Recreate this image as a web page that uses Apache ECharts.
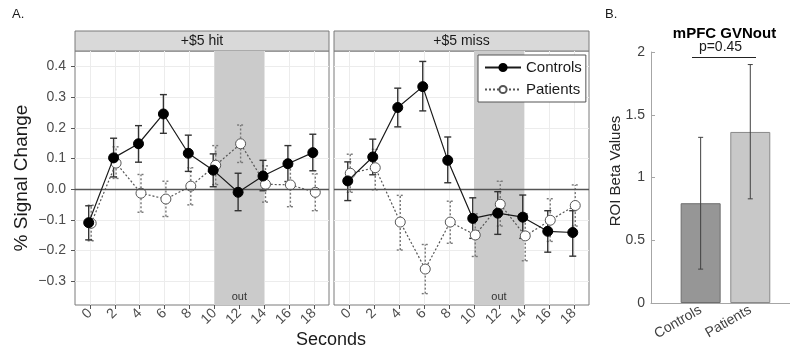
<!DOCTYPE html>
<html>
<head>
<meta charset="utf-8">
<script src="https://cdn.jsdelivr.net/npm/echarts@6/dist/echarts.min.js"></script>
<style>html,body{margin:0;padding:0;background:#fff}#c{width:790px;height:356px}</style>
</head>
<body>
<div id="c"></div>
<script>
// ---- data ----
var seconds = [0, 2, 4, 6, 8, 10, 12, 14, 16, 18];
var panelTitles = ['+$5 hit', '+$5 miss'];

var hitControls   = [-0.109, 0.102, 0.148, 0.245, 0.117, 0.062, -0.010, 0.043, 0.083, 0.119];
var hitControlsLo = [-0.165, 0.040, 0.088, 0.182, 0.058, 0.008, -0.070, -0.005, 0.025, 0.060];
var hitControlsHi = [-0.054, 0.166, 0.207, 0.308, 0.176, 0.115, 0.052, 0.094, 0.142, 0.179];

var hitPatients   = [-0.111, 0.085, -0.013, -0.032, 0.010, 0.078, 0.148, 0.016, 0.014, -0.010];
var hitPatientsLo = [-0.168, 0.035, -0.075, -0.089, -0.051, 0.015, 0.087, -0.042, -0.057, -0.070];
var hitPatientsHi = [-0.052, 0.138, 0.048, 0.026, 0.070, 0.142, 0.209, 0.076, 0.075, 0.050];

var missControls   = [0.027, 0.105, 0.266, 0.334, 0.094, -0.095, -0.078, -0.091, -0.137, -0.141];
var missControlsLo = [-0.037, 0.047, 0.203, 0.255, 0.021, -0.160, -0.147, -0.160, -0.205, -0.218];
var missControlsHi = [0.089, 0.163, 0.329, 0.416, 0.170, -0.028, -0.008, -0.019, -0.070, -0.070];

var missPatients   = [0.052, 0.070, -0.107, -0.260, -0.107, -0.149, -0.049, -0.152, -0.101, -0.053];
var missPatientsLo = [-0.010, -0.002, -0.198, -0.340, -0.176, -0.219, -0.120, -0.233, -0.170, -0.120];
var missPatientsHi = [0.114, 0.130, -0.020, -0.180, -0.039, -0.080, 0.026, -0.080, -0.031, 0.014];

var outWindow = [10, 14];
var yTickLabels = [-0.3, -0.2, -0.1, 0.0, 0.1, 0.2, 0.3, 0.4];

var barCategories = ['Controls', 'Patients'];
var barValues = [0.795, 1.363];
var barLow = [0.27, 0.83];
var barHigh = [1.32, 1.90];
var pValueText = 'p=0.45';
var barTitle = 'mPFC GVNout';

// ---- build ----
var FONT = '"Liberation Sans", Arial, Helvetica, sans-serif';
var dodge = 0.1;
function pts(vals, off) { return seconds.map(function (s, i) { return [s + off, vals[i]]; }); }
function errs(lo, hi, off) { return seconds.map(function (s, i) { return [s + off, lo[i], hi[i]]; }); }
function fmtMinus(v) { return (Math.abs(v) < 1e-9 ? '0.0' : v.toFixed(1)).replace('-', '\u2212'); }

function errRender(color, dash, capHalf, lw) {
  return function (params, api) {
    var x = api.value(0), lo = api.value(1), hi = api.value(2);
    var a = api.coord([x, lo]), b = api.coord([x, hi]);
    var st = { stroke: color, lineWidth: lw, lineDash: dash };
    return { type: 'group', children: [
      { type: 'line', shape: { x1: a[0], y1: a[1], x2: b[0], y2: b[1] }, style: st },
      { type: 'line', shape: { x1: a[0] - capHalf, y1: a[1], x2: a[0] + capHalf, y2: a[1] }, style: st },
      { type: 'line', shape: { x1: b[0] - capHalf, y1: b[1], x2: b[0] + capHalf, y2: b[1] }, style: st }
    ]};
  };
}

var grids = [
  { left: 75, top: 51, width: 254, height: 254 },
  { left: 334, top: 51, width: 255, height: 254 },
  { left: 651, top: 52, width: 139, height: 251 }
];

function lineX(gi) {
  return {
    type: 'value', gridIndex: gi, min: -1.2, max: 19.2, splitNumber: 20, position: 'bottom',
    axisLine: { show: false, onZero: false },
    axisTick: { show: true, inside: false, customValues: seconds, length: 4, lineStyle: { color: '#555' } },
    axisLabel: { customValues: seconds, rotate: 45, margin: 6, color: '#4d4d4d', fontSize: 14, fontFamily: FONT },
    splitLine: { show: true, lineStyle: { color: '#ececec', width: 1 } }
  };
}
function lineY(gi, showLabels) {
  return {
    type: 'value', gridIndex: gi, min: -0.377, max: 0.45, splitNumber: 16, position: 'left',
    axisLine: { show: false, onZero: false },
    axisTick: { show: showLabels, inside: false, customValues: yTickLabels, length: 4, lineStyle: { color: '#555' } },
    axisLabel: { show: showLabels, customValues: yTickLabels, margin: 9, color: '#4d4d4d', fontSize: 14, fontFamily: FONT, formatter: fmtMinus },
    splitLine: { show: true, lineStyle: { color: '#ececec', width: 1 } }
  };
}

var series = [];
function addPanel(gi, c, cLo, cHi, p, pLo, pHi) {
  series.push({
    type: 'custom', name: 'errC' + gi, xAxisIndex: gi, yAxisIndex: gi, z: 3,
    renderItem: errRender('#333333', null, 3.5, 1.4), encode: { x: 0, y: [1, 2] },
    data: errs(cLo, cHi, -dodge), silent: true
  });
  series.push({
    type: 'custom', name: 'errP' + gi, xAxisIndex: gi, yAxisIndex: gi, z: 2,
    renderItem: errRender('#777777', [2, 2], 3.5, 1.4), encode: { x: 0, y: [1, 2] },
    data: errs(pLo, pHi, dodge), silent: true
  });
  series.push({
    type: 'line', name: 'Patients', xAxisIndex: gi, yAxisIndex: gi, z: 4,
    data: pts(p, dodge), symbol: 'circle', symbolSize: 10,
    lineStyle: { color: '#555555', width: 1.2, type: [2, 2] },
    itemStyle: { color: '#ffffff', borderColor: '#555555', borderWidth: 1 },
    markArea: {
      silent: true,
      itemStyle: { color: '#cbcbcb' },
      label: { show: true, position: 'insideBottom', distance: 3, color: '#333', fontSize: 11, fontFamily: FONT },
      data: [[{ xAxis: outWindow[0], name: 'out' }, { xAxis: outWindow[1] }]]
    },
    markLine: {
      silent: true, symbol: 'none', label: { show: false },
      lineStyle: { color: '#555555', width: 1.3, type: 'solid' },
      data: [{ yAxis: 0 }]
    },
    animation: false
  });
  series.push({
    type: 'line', name: 'Controls', xAxisIndex: gi, yAxisIndex: gi, z: 5,
    data: pts(c, -dodge), symbol: 'circle', symbolSize: 10,
    lineStyle: { color: '#1a1a1a', width: 1.2 },
    itemStyle: { color: '#000000', borderColor: '#000000', borderWidth: 1 },
    animation: false
  });
}
addPanel(0, hitControls, hitControlsLo, hitControlsHi, hitPatients, hitPatientsLo, hitPatientsHi);
addPanel(1, missControls, missControlsLo, missControlsHi, missPatients, missPatientsLo, missPatientsHi);

var barColors = ['#969696', '#c8c8c8'];
var barEdges = ['#6e6e6e', '#8a8a8a'];
series.push({
  type: 'bar', xAxisIndex: 2, yAxisIndex: 2, barWidth: 40, z: 2,
  data: barValues.map(function (v, i) {
    return { value: [i + 1, v], itemStyle: { color: barColors[i], borderColor: barEdges[i], borderWidth: 1 } };
  }),
  animation: false
});
series.push({
  type: 'custom', xAxisIndex: 2, yAxisIndex: 2, z: 3, silent: true,
  renderItem: errRender('#404040', null, 2.5, 1), encode: { x: 0, y: [1, 2] },
  data: barValues.map(function (v, i) { return [i + 1, barLow[i], barHigh[i]]; })
});

var option = {
  animation: false,
  textStyle: { fontFamily: FONT },
  grid: grids.map(function (g, i) {
    return Object.assign({ containLabel: false, show: i < 2, borderColor: '#7a7a7a', borderWidth: 1, backgroundColor: 'transparent' }, g);
  }),
  xAxis: [lineX(0), lineX(1), {
    type: 'value', gridIndex: 2, min: 0, max: 2.8, position: 'bottom',
    axisLine: { show: true, onZero: false, lineStyle: { color: '#a6a6a6' } },
    axisTick: { show: true, inside: true, length: 4, customValues: [1, 2], lineStyle: { color: '#a6a6a6' } },
    axisLabel: { customValues: [1, 2], rotate: 30, margin: 6, color: '#404040', fontSize: 14, fontFamily: FONT,
      formatter: function (v) { return barCategories[Math.round(v) - 1] || ''; } },
    splitLine: { show: false }
  }],
  yAxis: [lineY(0, true), lineY(1, false), {
    type: 'value', gridIndex: 2, min: 0, max: 2, interval: 0.5, position: 'left',
    axisLine: { show: true, onZero: false, lineStyle: { color: '#a6a6a6' } },
    axisTick: { show: true, inside: true, length: 4, lineStyle: { color: '#a6a6a6' } },
    axisLabel: { margin: 6, color: '#404040', fontSize: 14, fontFamily: FONT, formatter: function (v) { return String(v); } },
    splitLine: { show: false }
  }],
  legend: {
    data: ['Controls', 'Patients'], orient: 'vertical', left: 478, top: 55,
    backgroundColor: '#ffffff', borderColor: '#555555', borderWidth: 1, borderRadius: 0,
    padding: [4, 4, 4, 6], itemGap: 5, itemWidth: 36, itemHeight: 9,
    textStyle: { fontSize: 15, color: '#1a1a1a', fontFamily: FONT, lineHeight: 17 }, selectedMode: false
  },
  graphic: [
    { type: 'rect', shape: { x: 75, y: 31, width: 254, height: 20 }, style: { fill: '#d9d9d9', stroke: '#7a7a7a', lineWidth: 1 } },
    { type: 'rect', shape: { x: 334, y: 31, width: 255, height: 20 }, style: { fill: '#d9d9d9', stroke: '#7a7a7a', lineWidth: 1 } },
    { type: 'text', x: 202, y: 41, style: { text: panelTitles[0], fill: '#1a1a1a', font: '14px ' + FONT, align: 'center', verticalAlign: 'middle' } },
    { type: 'text', x: 461.5, y: 41, style: { text: panelTitles[1], fill: '#1a1a1a', font: '14px ' + FONT, align: 'center', verticalAlign: 'middle' } },
    { type: 'text', x: 12, y: 14, style: { text: 'A.', fill: '#1a1a1a', font: '13px ' + FONT, align: 'left', verticalAlign: 'middle' } },
    { type: 'text', x: 605, y: 14, style: { text: 'B.', fill: '#1a1a1a', font: '13px ' + FONT, align: 'left', verticalAlign: 'middle' } },
    { type: 'text', x: 331, y: 340, style: { text: 'Seconds', fill: '#1a1a1a', font: '18px ' + FONT, align: 'center', verticalAlign: 'middle' } },
    { type: 'text', x: 22, y: 178, rotation: Math.PI / 2, style: { text: '% Signal Change', fill: '#1a1a1a', font: '19px ' + FONT, align: 'center', verticalAlign: 'middle' } },
    { type: 'text', x: 616, y: 171, rotation: Math.PI / 2, style: { text: 'ROI Beta Values', fill: '#262626', font: '15px ' + FONT, align: 'center', verticalAlign: 'middle' } },
    { type: 'text', x: 724.5, y: 33.5, style: { text: barTitle, fill: '#000', font: 'bold 15px ' + FONT, align: 'center', verticalAlign: 'middle' } },
    { type: 'text', x: 720.5, y: 47.5, style: { text: pValueText, fill: '#1a1a1a', font: '14px ' + FONT, align: 'center', verticalAlign: 'middle' } },
    { type: 'line', shape: { x1: 692, y1: 57.5, x2: 756, y2: 57.5 }, style: { stroke: '#222', lineWidth: 1 } }
  ],
  series: series
};
var chart = echarts.init(document.getElementById('c'), null, { renderer: 'canvas' });
chart.setOption(option);
</script>
</body>
</html>
